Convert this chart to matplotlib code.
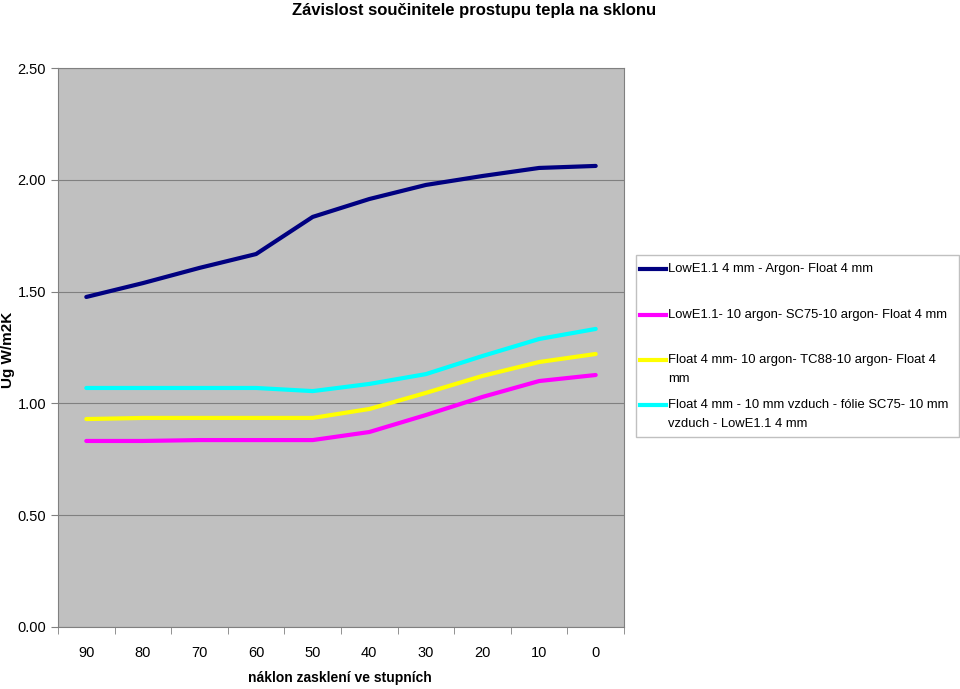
import matplotlib.pyplot as plt
from matplotlib.lines import Line2D
from matplotlib.patches import Rectangle
import numpy as np

plt.rcParams['font.family'] = ['Liberation Sans', 'DejaVu Sans']

# data
sklon = ['90', '80', '70', '60', '50', '40', '30', '20', '10', '0']
lowe_argon = [1.476, 1.538, 1.606, 1.668, 1.834, 1.914, 1.977, 2.017, 2.053, 2.062]
lowe_sc75 = [0.832, 0.832, 0.836, 0.836, 0.836, 0.872, 0.948, 1.029, 1.100, 1.127]
float_tc88 = [0.930, 0.935, 0.935, 0.935, 0.935, 0.975, 1.047, 1.123, 1.185, 1.221]
float_folie = [1.069, 1.069, 1.069, 1.069, 1.055, 1.087, 1.131, 1.212, 1.288, 1.333]

labels = [
    'LowE1.1 4 mm - Argon- Float 4 mm',
    'LowE1.1- 10 argon- SC75-10 argon- Float 4 mm',
    'Float 4 mm- 10 argon- TC88-10 argon- Float 4\nmm',
    'Float 4 mm - 10 mm vzduch - fólie SC75- 10 mm\nvzduch - LowE1.1 4 mm',
]
barvy = ['#000080', '#FF00FF', '#FFFF00', '#00FFFF']

W, H = 960, 689
fig = plt.figure(figsize=(W / 100, H / 100), dpi=100)
ax = fig.add_axes([58 / W, 1 - 627 / H, 566 / W, 559 / H])
ax.set_facecolor('#C0C0C0')

x = np.arange(len(sklon))
for serie, barva in zip([lowe_argon, lowe_sc75, float_tc88, float_folie], barvy):
    ax.plot(x, serie, color=barva, lw=3, solid_capstyle='round')

ax.set_xlim(-0.5, len(sklon) - 0.5)
ax.set_ylim(0, 2.5)
yt = np.arange(0, 2.51, 0.5)
ax.set_yticks(yt)
ax.set_yticklabels([f'{v:.2f}' for v in yt], fontsize=10.5)
ax.yaxis.grid(True, color='#808080', lw=0.8)
ax.set_axisbelow(True)

ax.set_xticks(x)
ax.set_xticklabels(sklon, fontsize=10.5)
ax.tick_params(axis='x', length=0, pad=14)
ax.set_xticks(np.arange(-0.5, len(sklon), 1), minor=True)
ax.tick_params(axis='x', which='minor', length=5, color='#808080')
ax.tick_params(axis='y', length=5, color='#808080')

for s in ax.spines.values():
    s.set_color('#808080')

fig.text(340 / W, 1 - 678 / H, 'náklon zasklení ve stupních', fontsize=10, fontweight='bold',
         ha='center', va='center')
fig.text(8 / W, 1 - 350 / H, 'Ug W/m2K', rotation=90, fontsize=11, fontweight='bold',
         ha='center', va='center')

fig.text(474 / W, 1 - 11 / H, 'Závislost součinitele prostupu tepla na sklonu',
         ha='center', va='center', fontsize=12, fontweight='bold')

# legenda - rucne, at sedi rozestupy jako v originale
fig.patches.append(Rectangle((636 / W, 1 - 437 / H), 323 / W, 182 / H, transform=fig.transFigure,
                             facecolor='white', edgecolor='#C0C0C0', lw=1))
radky_y = [269, 315, 360, 405]
for lab, barva, yy in zip(labels, barvy, radky_y):
    fig.lines.append(Line2D([640 / W, 666 / W], [1 - yy / H, 1 - yy / H], transform=fig.transFigure,
                            color=barva, lw=3))
    for k, radek in enumerate(lab.split('\n')):
        fig.text(668 / W, 1 - (yy + k * 19) / H, radek, fontsize=9.4, ha='left', va='center')

fig.savefig('out.png', dpi=100)
